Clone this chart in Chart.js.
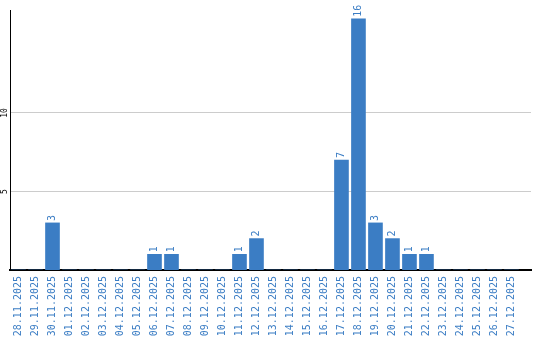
<!DOCTYPE html>
<html>
<head>
<meta charset="utf-8">
<script src="https://cdn.jsdelivr.net/npm/chart.js@4"></script>
<style>
  html, body { margin: 0; padding: 0; background: #fff; }
  #wrap { width: 540px; height: 340px; }
</style>
</head>
<body>
<div id="wrap"><canvas id="chart" width="540" height="340"></canvas></div>
<script>
/* ── Data ── */
const dates = [
  "28.11.2025", "29.11.2025", "30.11.2025", "01.12.2025", "02.12.2025",
  "03.12.2025", "04.12.2025", "05.12.2025", "06.12.2025", "07.12.2025",
  "08.12.2025", "09.12.2025", "10.12.2025", "11.12.2025", "12.12.2025",
  "13.12.2025", "14.12.2025", "15.12.2025", "16.12.2025", "17.12.2025",
  "18.12.2025", "19.12.2025", "20.12.2025", "21.12.2025", "22.12.2025",
  "23.12.2025", "24.12.2025", "25.12.2025", "26.12.2025", "27.12.2025",
];
const counts = [
  0, 0, 3, 0, 0, 0, 0, 0, 1, 1,
  0, 0, 0, 1, 2, 0, 0, 0, 0, 7,
  16, 3, 2, 1, 1, 0, 0, 0, 0, 0,
];
const yTicks = [5, 10];

const BLUE = "#3b7dc4";
const MONO = "'DejaVu Sans Mono', monospace";

/* ── Bar value labels, rotated ── */
const valueLabels = {
  id: "valueLabels",
  afterDatasetsDraw(chart) {
    const ctx = chart.ctx;
    const meta = chart.getDatasetMeta(0);
    ctx.save();
    ctx.fillStyle = BLUE;
    ctx.font = "10px " + MONO;
    ctx.textAlign = "left";
    ctx.textBaseline = "middle";
    meta.data.forEach((bar, i) => {
      if (!counts[i]) return;
      ctx.save();
      ctx.translate(bar.x, bar.y - 2);
      ctx.rotate(-Math.PI / 2);
      ctx.fillText(String(counts[i]), 0, 0);
      ctx.restore();
    });
    ctx.restore();
  },
};

/* ── Y tick labels, rotated ── */
const yLabels = {
  id: "yLabels",
  afterDraw(chart) {
    const ctx = chart.ctx;
    const y = chart.scales.y;
    ctx.save();
    ctx.fillStyle = "#000";
    ctx.font = "8px " + MONO;
    ctx.textAlign = "center";
    ctx.textBaseline = "middle";
    y.ticks.forEach((t) => {
      ctx.save();
      ctx.translate(4.5, y.getPixelForValue(t.value));
      ctx.rotate(-Math.PI / 2);
      ctx.fillText(String(t.value), 0, 0);
      ctx.restore();
    });
    ctx.restore();
  },
};

new Chart(document.getElementById("chart"), {
  type: "bar",
  data: {
    datasets: [
      {
        data: counts.map((v, i) => ({ x: i, y: v })),
        backgroundColor: BLUE,
        borderWidth: 0,
        barThickness: 14,
      },
    ],
  },
  options: {
    responsive: false,
    animation: false,
    layout: { padding: { top: 10, right: 9, left: 0, bottom: 0 } },
    plugins: { legend: { display: false }, tooltip: { enabled: false } },
    scales: {
      x: {
        type: "linear",
        min: -0.5,
        max: 30.15,
        offset: false,
        afterBuildTicks: (s) => {
          s.ticks = dates.map((_, i) => ({ value: i }));
        },
        afterFit: (s) => {
          s.height = 70;
        },
        grid: { display: false, drawTicks: false },
        border: { color: "#000", width: 2 },
        ticks: {
          autoSkip: false,
          minRotation: 90,
          maxRotation: 90,
          padding: 6,
          color: BLUE,
          font: { family: MONO, size: 10 },
          callback: (v) => dates[v],
        },
      },
      y: {
        min: 0,
        max: 16.56,
        afterBuildTicks: (s) => {
          s.ticks = yTicks.map((v) => ({ value: v }));
        },
        afterFit: (s) => {
          s.width = 10;
        },
        grid: { color: "#cccccc", lineWidth: 1, drawTicks: false },
        border: { color: "#000", width: 1 },
        ticks: { display: false },
      },
    },
  },
  plugins: [valueLabels, yLabels],
});
</script>
</body>
</html>
